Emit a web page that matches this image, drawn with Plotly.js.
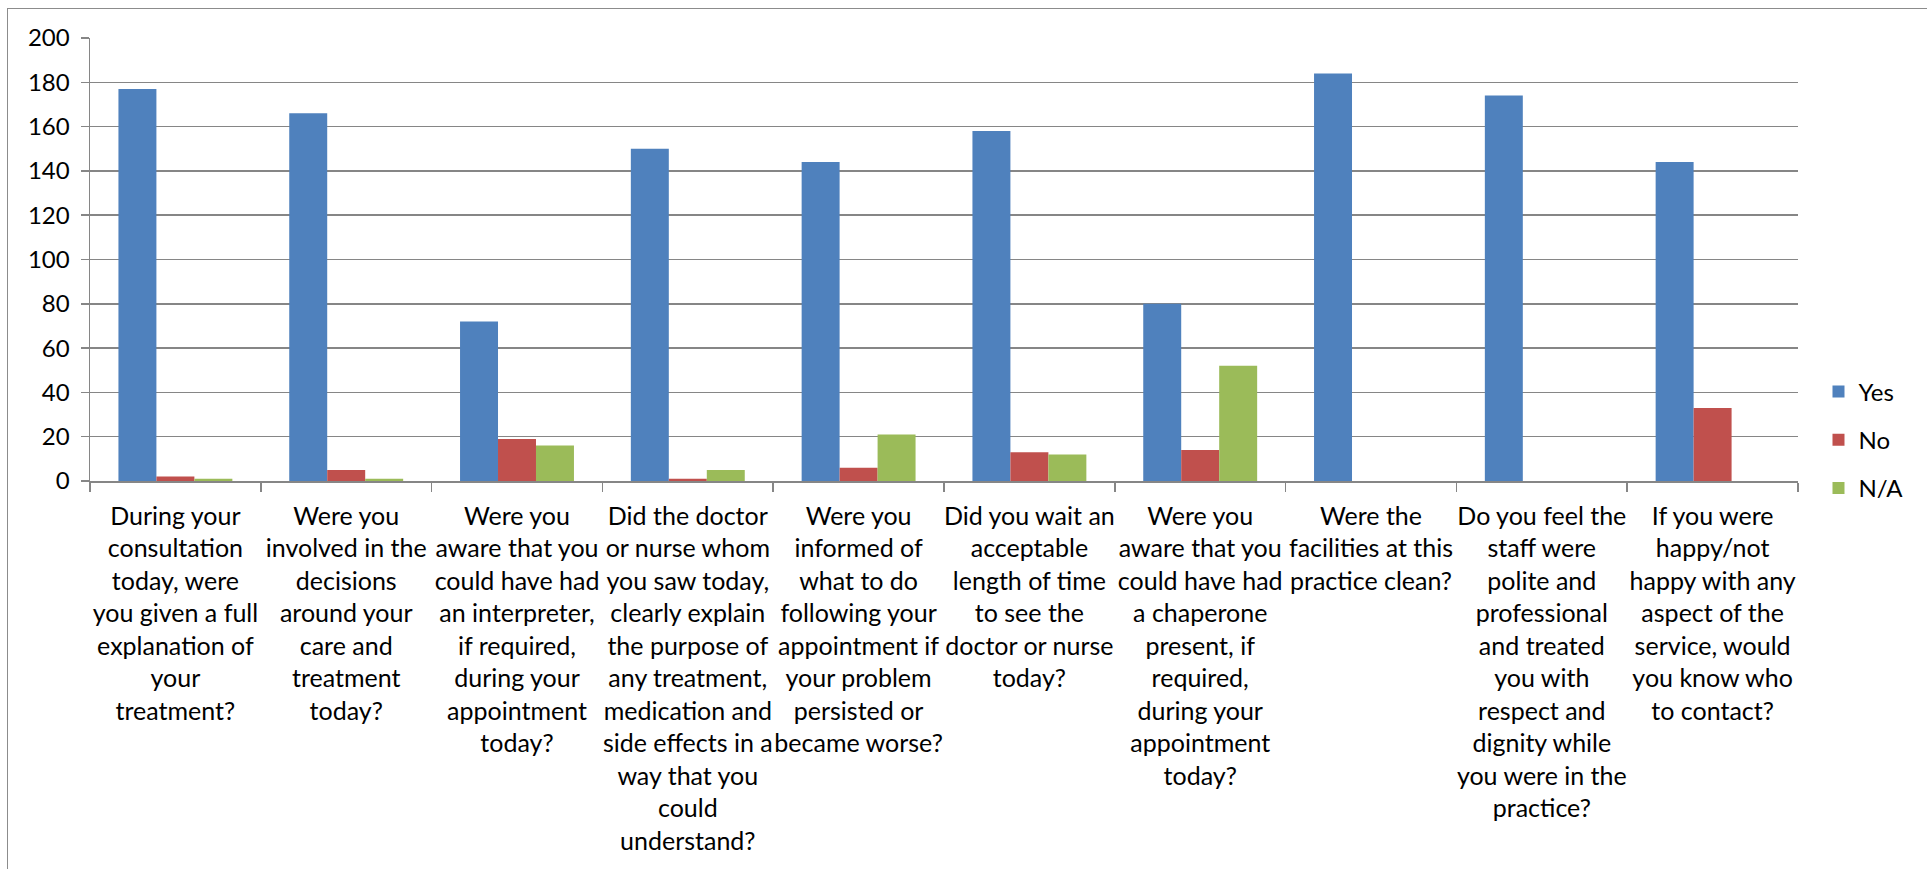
<!DOCTYPE html>
<html>
<head>
<meta charset="utf-8">
<script src="https://cdn.plot.ly/plotly-3.0.1.min.js"></script>
<style>
  html, body { margin: 0; padding: 0; background: #ffffff; width: 1927px; height: 869px; overflow: hidden; }
  #frame { position: absolute; left: 7px; top: 8px; width: 2000px; height: 1000px; border: 1.5px solid #8c8c8c; box-sizing: border-box; }
  #chart { position: absolute; left: 0; top: 0; width: 1927px; height: 869px; }
</style>
</head>
<body>
<div id="frame"></div>
<div id="chart"></div>
<script>
const categories = [
  "During your<br>consultation<br>today, were<br>you given a full<br>explanation of<br>your<br>treatment?",
  "Were you<br>involved in the<br>decisions<br>around your<br>care and<br>treatment<br>today?",
  "Were you<br>aware that you<br>could have had<br>an interpreter,<br>if required,<br>during your<br>appointment<br>today?",
  "Did the doctor<br>or nurse whom<br>you saw today,<br>clearly explain<br>the purpose of<br>any treatment,<br>medication and<br>side effects in a<br>way that you<br>could<br>understand?",
  "Were you<br>informed of<br>what to do<br>following your<br>appointment if<br>your problem<br>persisted or<br>became worse?",
  "Did you wait an<br>acceptable<br>length of time<br>to see the<br>doctor or nurse<br>today?",
  "Were you<br>aware that you<br>could have had<br>a chaperone<br>present, if<br>required,<br>during your<br>appointment<br>today?",
  "Were the<br>facilities at this<br>practice clean?",
  "Do you feel the<br>staff were<br>polite and<br>professional<br>and treated<br>you with<br>respect and<br>dignity while<br>you were in the<br>practice?",
  "If you were<br>happy/not<br>happy with any<br>aspect of the<br>service, would<br>you know who<br>to contact?"
];
const yesValues = [177, 166, 72, 150, 144, 158, 80, 184, 174, 144];
const noValues  = [2, 5, 19, 1, 6, 13, 14, 0, 0, 33];
const naValues  = [1, 1, 16, 5, 21, 12, 52, 0, 0, 0];
const seriesNames = ["Yes", "No", "N/A"];
const seriesColors = ["#4F81BD", "#C0504D", "#9BBB59"];
const yTickValues = [0, 20, 40, 60, 80, 100, 120, 140, 160, 180, 200];

const seriesValues = [yesValues, noValues, naValues];
const traces = seriesValues.map((vals, i) => ({
  type: "bar",
  name: seriesNames[i],
  x: categories,
  y: vals,
  legendgroup: "g" + i,
  marker: { color: seriesColors[i], line: { width: 0 } },
  hoverinfo: "y+name"
}));

const FONT = "Lato, 'Liberation Sans', Arial, sans-serif";
const GRID = "#868686";

const layout = {
  width: 1927,
  height: 869,
  paper_bgcolor: "rgba(0,0,0,0)",
  plot_bgcolor: "rgba(0,0,0,0)",
  margin: { l: 90, r: 129, t: 38, b: 388, pad: 0 },
  barmode: "group",
  bargap: 0.333,
  bargroupgap: 0,
  font: { family: FONT, size: 24, color: "#000000" },
  showlegend: true,
  legend: {
    x: 1.012, xanchor: "left",
    y: 0.0926, yanchor: "middle",
    traceorder: "grouped",
    tracegroupgap: 14,
    font: { family: FONT, size: 24, color: "#000000" },
    bgcolor: "rgba(0,0,0,0)"
  },
  xaxis: {
    type: "category",
    showline: true,
    linecolor: GRID,
    linewidth: 1.5,
    ticks: "outside",
    tickson: "boundaries",
    ticklen: 9,
    tickcolor: GRID,
    tickwidth: 1.5,
    showgrid: false,
    tickangle: 0,
    automargin: false,
    ticklabelstandoff: 12,
    tickfont: { family: FONT, size: 25, color: "#000000" }
  },
  yaxis: {
    range: [0, 200],
    tickvals: yTickValues,
    showline: true,
    linecolor: GRID,
    linewidth: 1.5,
    ticks: "outside",
    ticklen: 8,
    tickcolor: GRID,
    tickwidth: 1.5,
    showgrid: true,
    gridcolor: GRID,
    gridwidth: 1.5,
    zeroline: false,
    automargin: false,
    ticklabelstandoff: 6,
    tickfont: { family: FONT, size: 24, color: "#000000" }
  }
};

Plotly.newPlot("chart", traces, layout, { displayModeBar: false, staticPlot: true });
</script>
</body>
</html>
